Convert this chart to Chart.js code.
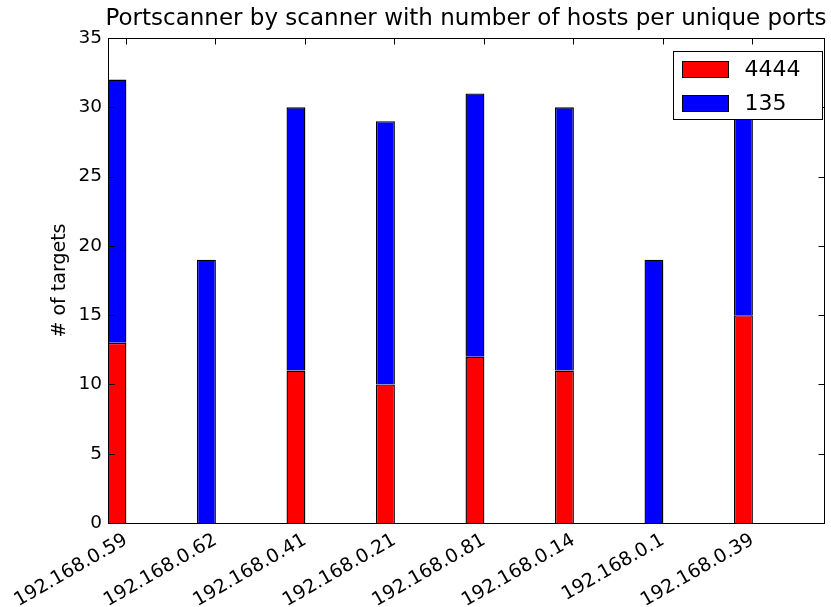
<!DOCTYPE html>
<html>
<head>
<meta charset="utf-8">
<script src="https://cdn.jsdelivr.net/npm/chart.js@4.4.0/dist/chart.umd.min.js"></script>
<style>
  html, body { margin: 0; padding: 0; background: #fff; }
  canvas { display: block; }
</style>
</head>
<body>
<canvas id="chart" width="831" height="607"></canvas>
<script>
// Scanner hosts and number of targets per port
const scanners = ['192.168.0.59', '192.168.0.62', '192.168.0.41', '192.168.0.21',
                  '192.168.0.81', '192.168.0.14', '192.168.0.1', '192.168.0.39'];
const port4444 = [13, 0, 11, 10, 12, 11, 0, 15];
const port135  = [19, 19, 19, 19, 19, 19, 19, 19];
const seriesNames = ['4444', '135'];
const yTickValues = [0, 5, 10, 15, 20, 25, 30, 35];

const chartTitle = 'Portscanner by scanner with number of hosts per unique ports';
const yAxisTitle = '# of targets';

const FONT = '"DejaVu Sans", "Liberation Sans", sans-serif';
const BAR_W = 0.2;          // bar width in x units; bar i spans [i, i + BAR_W]
const BAR_DRAWN_W = 0.211;  // drawn width including the outline
const TICK_LEN = 6;

const toPoints = vals => vals.map((v, i) => ({ x: i + BAR_W / 2, y: v }));

// Frame, inward tick marks, title and legend box
const decorations = {
  id: 'decorations',
  afterDatasetsDraw(chart) {
    const { ctx, chartArea: a, scales: { x, y } } = chart;
    ctx.save();

    // title
    ctx.fillStyle = '#000';
    ctx.font = '23px ' + FONT;
    ctx.textAlign = 'center';
    ctx.textBaseline = 'alphabetic';
    ctx.fillText(chartTitle, (a.left + a.right) / 2, a.top - 13);

    // axes frame
    const L = Math.round(a.left) + 0.5, R = Math.round(a.right) + 0.5;
    const T = Math.round(a.top) + 0.5, B = Math.round(a.bottom) + 0.5;
    ctx.strokeStyle = '#000';
    ctx.lineWidth = 1;
    ctx.strokeRect(L, T, R - L, B - T);

    // inward ticks
    ctx.beginPath();
    x.ticks.forEach(t => {
      const px = Math.round(x.getPixelForValue(t.value)) + 0.5;
      ctx.moveTo(px, T); ctx.lineTo(px, T + TICK_LEN);
    });
    y.ticks.forEach(t => {
      const py = Math.round(y.getPixelForValue(t.value)) + 0.5;
      ctx.moveTo(L, py); ctx.lineTo(L + TICK_LEN, py);
      ctx.moveTo(R, py); ctx.lineTo(R - TICK_LEN, py);
    });
    ctx.stroke();

    // legend
    const bw = 149, bh = 68;
    const bx = Math.round(a.right - bw - 2) + 0.5;
    const by = Math.round(a.top + 13) + 0.5;
    ctx.fillStyle = '#fff';
    ctx.fillRect(bx, by, bw, bh);
    ctx.strokeStyle = '#000';
    ctx.lineWidth = 1;
    ctx.strokeRect(bx, by, bw, bh);
    const rowsY = [by + 17.5, by + 51.5];
    chart.data.datasets.forEach((ds, k) => {
      const cy = rowsY[k];
      ctx.fillStyle = ds.backgroundColor;
      ctx.fillRect(bx + 9, Math.round(cy - 8), 46, 16);
      ctx.strokeStyle = '#000';
      ctx.strokeRect(bx + 9, Math.round(cy - 8) + 0.5, 46, 16);
      ctx.fillStyle = '#000';
      ctx.font = '22px ' + FONT;
      ctx.textAlign = 'left';
      ctx.textBaseline = 'middle';
      ctx.fillText(ds.label, bx + 71, cy + 1);
    });
    ctx.restore();
  }
};

new Chart(document.getElementById('chart'), {
  type: 'bar',
  data: {
    datasets: [
      { label: seriesNames[0], data: toPoints(port4444), backgroundColor: '#ff0000' },
      { label: seriesNames[1], data: toPoints(port135),  backgroundColor: '#0000ff' }
    ]
  },
  options: {
    responsive: false,
    animation: false,
    devicePixelRatio: 1,
    layout: { padding: { left: 0, right: 7, top: 38, bottom: 0 } },
    datasets: {
      bar: {
        borderColor: '#000',
        borderWidth: c => (c.raw && c.raw.y === 0 ? 0 : 1.4),
        borderSkipped: 'start',
        categoryPercentage: 1,
        barPercentage: BAR_DRAWN_W
      }
    },
    plugins: {
      legend: { display: false },
      title: { display: false },
      tooltip: { enabled: false }
    },
    scales: {
      x: {
        type: 'linear',
        stacked: true,
        offset: false,
        min: 0,
        max: scanners.length,
        grid: { display: false, drawTicks: false },
        border: { display: false },
        afterBuildTicks: s => { s.ticks = scanners.map((_, i) => ({ value: i + BAR_W })); },
        afterFit: s => { s.height = 84; },
        ticks: {
          autoSkip: false,
          minRotation: 30,
          maxRotation: 30,
          padding: 6,
          color: '#000',
          font: { family: FONT, size: 19 },
          callback: (v, i) => scanners[i]
        }
      },
      y: {
        stacked: true,
        min: 0,
        max: 35,
        grid: { display: false, drawTicks: false },
        border: { display: false },
        afterBuildTicks: s => { s.ticks = yTickValues.map(v => ({ value: v })); },
        afterFit: s => { s.width = 108; },
        ticks: {
          padding: 6,
          color: '#000',
          font: { family: FONT, size: 18.5 }
        },
        title: {
          display: true,
          text: yAxisTitle,
          color: '#000',
          font: { family: FONT, size: 19 },
          padding: { top: 49, bottom: 0 }
        }
      }
    }
  },
  plugins: [decorations]
});
</script>
</body>
</html>
